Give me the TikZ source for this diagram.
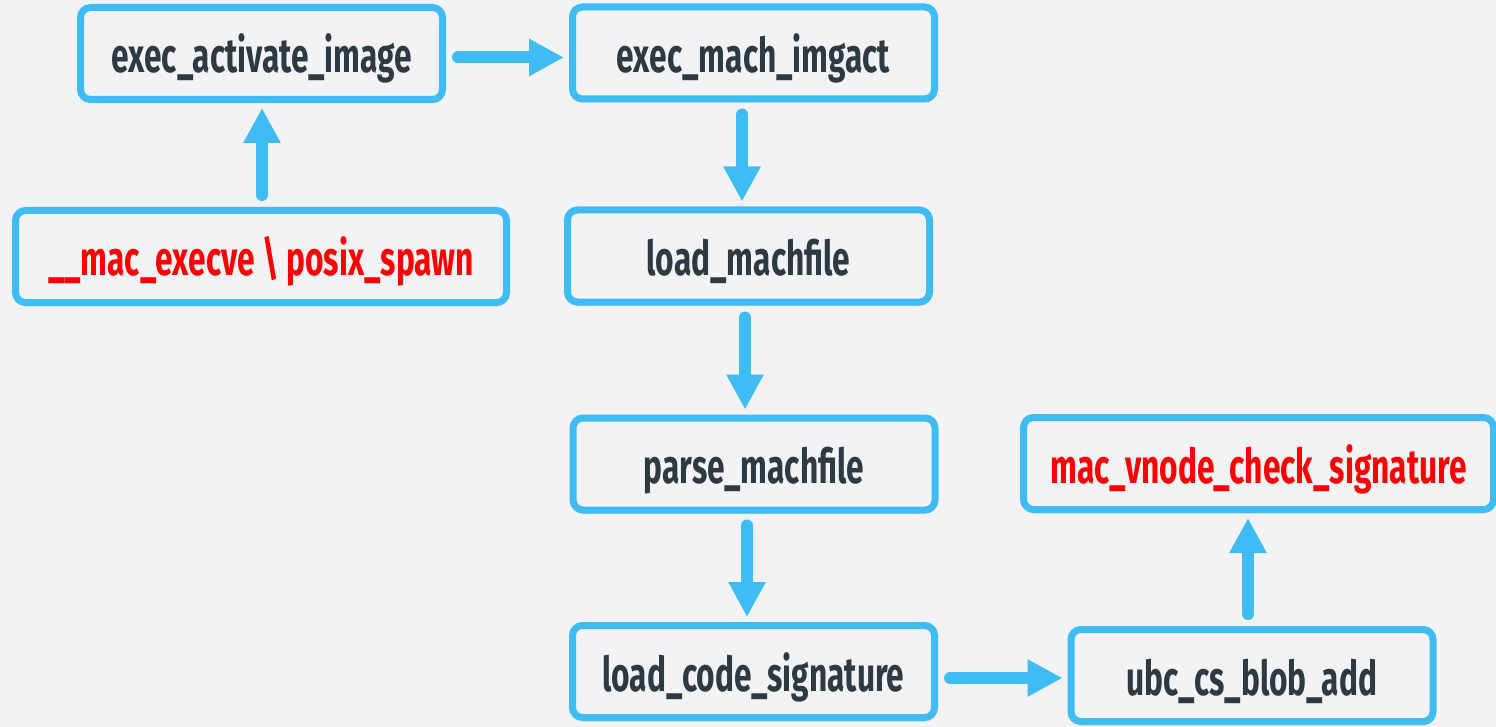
\documentclass[tikz,border=0pt]{standalone}
\usepackage{fontspec}
\newfontfamily\boxfont{Fira Sans}[FakeStretch=0.66]
\usepackage{tikz}
\usetikzlibrary{arrows.meta,shadows}
\definecolor{bg}{HTML}{F3F3F5}
\definecolor{boxblue}{HTML}{3FBCF3}
\definecolor{ink}{HTML}{2E3A43}
\definecolor{hot}{HTML}{FF0000}
\tikzstyle{box}=[
	draw=boxblue,
	line width=7pt,
	rounded corners=10pt,
	fill=bg,
	minimum width=362pt,
	minimum height=92pt,
	text height=39pt,
	text depth=0pt,
	text=ink,
	font=\boxfont\bfseries\fontsize{48}{48}\selectfont,
	drop shadow={shadow xshift=1pt, shadow yshift=-4pt, opacity=0.15}
]
\tikzstyle{hotbox}=[
	box,
	text=hot
]
\tikzstyle{flow}=[
	-{Triangle[length=35pt,width=35pt]},
	draw=boxblue,
	line width=12pt,
	line cap=round,
	shorten <=12pt,
	shorten >=5pt
]
\begin{document}
\begin{tikzpicture}[x=1pt,y=-1pt]
\useasboundingbox (0,0) rectangle (1496,727);
\fill[bg] (0,0) rectangle (1496,727);

\node[box] (activate) at (261.5,53.5) {exec\_activate\_image};
\node[box] (imgact) at (753.5,53) {exec\_mach\_imgact};
\node[hotbox, minimum width=491pt] (execve) at (261,256.5) {\_\_mac\_execve \textbackslash{} posix\_spawn};
\node[box] (loadmach) at (748.5,256) {load\_machfile};
\node[box] (parse) at (754,464) {parse\_machfile};
\node[hotbox, minimum width=470pt] (vnode) at (1258.5,463.5) {mac\_vnode\_check\_signature};
\node[box] (loadsig) at (753.5,671.5) {load\_code\_signature};
\node[box] (blob) at (1252,675.5) {ubc\_cs\_blob\_add};

\draw[flow] ([yshift=-4pt]activate.east) -- ([yshift=-4pt]activate.east -| imgact.west);
\draw[flow] ([xshift=1pt]execve.north) -- ([xshift=1pt]execve.north |- activate.south);
\draw[flow] ([xshift=-11.5pt]imgact.south) -- ([xshift=-11.5pt]imgact.south |- loadmach.north);
\draw[flow] ([xshift=-3.5pt]loadmach.south) -- ([xshift=-3.5pt]loadmach.south |- parse.north);
\draw[flow] ([xshift=-7pt]parse.south) -- ([xshift=-7pt]parse.south |- loadsig.north);
\draw[flow] ([yshift=-6.5pt]loadsig.east) -- ([yshift=-6.5pt]loadsig.east -| blob.west);
\draw[flow] ([xshift=-4pt]blob.north) -- ([xshift=-4pt]blob.north |- vnode.south);

\end{tikzpicture}
\end{document}
